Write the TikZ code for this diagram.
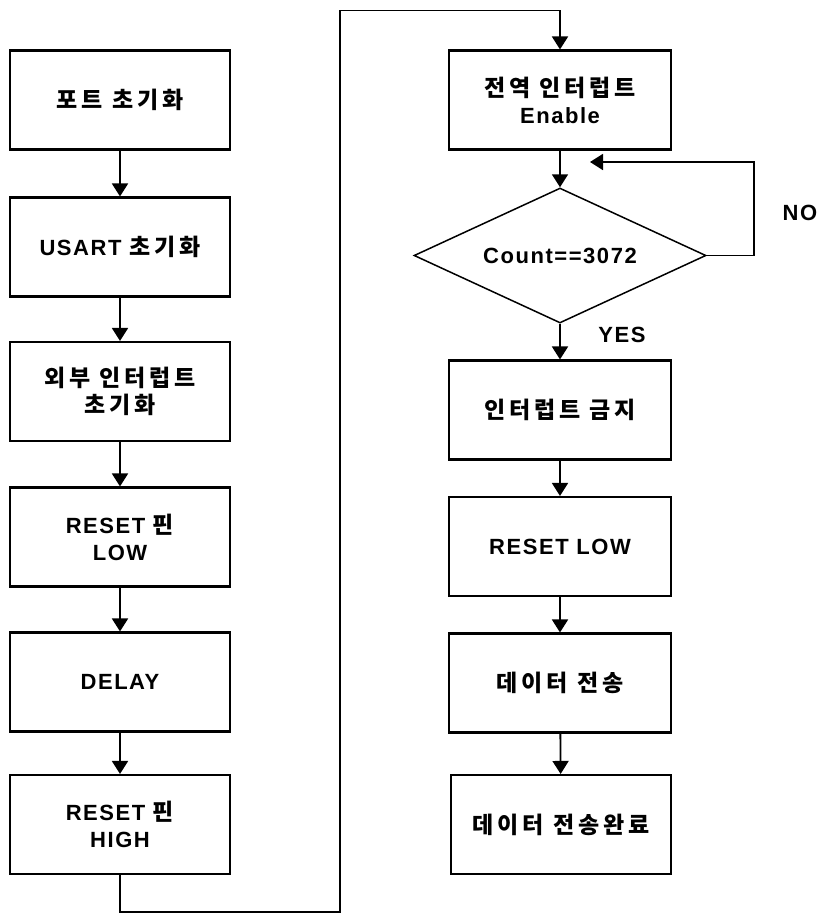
\documentclass[tikz,border=0pt]{standalone}
\usepackage{fontspec}
\setmainfont{Liberation Sans}[LetterSpace=7]
\newfontfamily\kr{Noto Sans CJK KR}[LetterSpace=17]
\newcommand\ko[1]{{\kr\fontsize{23}{27}\selectfont #1}}
\usetikzlibrary{arrows.meta,shapes.geometric}

\tikzset{
  stepbox/.style={draw, line width=2.1pt, minimum width=220pt, minimum height=99pt,
    inner sep=0pt, align=center, font=\fontsize{22}{27}\selectfont\bfseries},
  flow/.style={line width=1.8pt, -{Triangle[length=13pt,width=16pt]}},
  decision/.style={diamond, draw, line width=1.5pt, minimum width=292pt,
    minimum height=135pt, inner sep=0pt},
  tag/.style={inner sep=0pt, font=\fontsize{22}{27}\selectfont\bfseries}
}

\begin{document}
\begin{tikzpicture}[x=1pt,y=-1pt]
  \useasboundingbox (0,0) rectangle (823,914);

  % left column
  \node[stepbox] (b1) at (120,100)   {\ko{포트 초기화}};
  \node[stepbox] (b2) at (120,247)   {USART \ko{초기화}};
  \node[stepbox] (b3) at (120,391.5) {\ko{외부 인터럽트}\\\ko{초기화}};
  \node[stepbox] (b4) at (120,537)   {RESET \ko{핀}\\LOW};
  \node[stepbox] (b5) at (120,682)   {DELAY};
  \node[stepbox] (b6) at (120,824.5) {RESET \ko{핀}\\HIGH};

  % right column
  \node[stepbox, minimum width=222pt] (b7) at (560,100) {\ko{전역 인터럽트}\\Enable};
  \node[decision] (dia) at (560,255.5) {};
  \node[tag] (dtext) at (dia.center) {Count==3072};
  \node[stepbox, minimum width=222pt] (b8)  at (560,410)   {\ko{인터럽트 금지}};
  \node[stepbox, minimum width=222pt] (b9)  at (560,546.5) {RESET LOW};
  \node[stepbox, minimum width=222pt] (b10) at (560,683)   {\ko{데이터 전송}};
  \node[stepbox, minimum width=220pt] (b11) at (561,824.5) {\ko{데이터 전송완료}};

  % labels
  \node[tag] (no)  at (800,213) {NO};
  \node[tag] (yes) at (622,335) {YES};

  % left column flow
  \draw[flow] (b1) -- (b2);
  \draw[flow] (b2) -- (b3);
  \draw[flow] (b3) -- (b4);
  \draw[flow] (b4) -- (b5);
  \draw[flow] (b5) -- (b6);

  % carry-over into the right column
  \coordinate (lowturn) at (340,912);
  \coordinate (highturn) at (340,10.5);
  \draw[flow] (b6.south) |- (lowturn) -- (highturn) -| (b7.north);

  % right column flow
  \draw[flow] (b7) -- (dia.north);
  \draw[flow] (dia.south) -- (b8.north);
  \draw[flow] (b8) -- (b9);
  \draw[flow] (b9) -- (b10);
  \draw[flow] (b10) -- (b11);

  % NO loop back above the decision
  \coordinate (noturn) at (754,162);
  \coordinate (noend) at (590,162);
  \draw[flow] (dia.east) -| (noturn) -- (noend);
\end{tikzpicture}
\end{document}
